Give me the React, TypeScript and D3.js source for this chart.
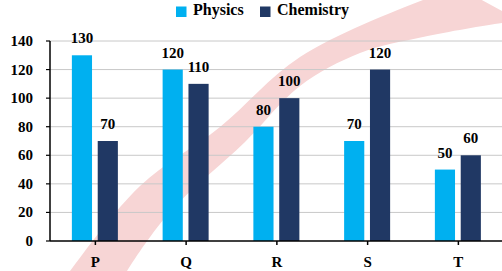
import * as d3 from "d3";

const categories = ["P", "Q", "R", "S", "T"];
const seriesNames = ["Physics", "Chemistry"];
const physics = [130, 120, 80, 70, 50];
const chemistry = [70, 110, 100, 120, 60];
const yTicks = [0, 20, 40, 60, 80, 100, 120, 140];

const colors = ["#00B0F0", "#203864"];
const font = "Liberation Serif, Times New Roman, serif";

// pale pink swoosh in the background (two edges of the band)
const swooshUpper: [number, number][] = [
  [58, 288], [70, 271], [140, 186], [220, 127], [300, 57], [423, 0], [460, -12],
];
const swooshLower: [number, number][] = [
  [118, 288], [127, 271], [170, 212], [245, 142], [300, 86], [360, 53], [423, 37], [502, 23], [520, 21],
];

export default function App() {
  const width = 502;
  const height = 271;
  const values = [physics, chemistry];

  const x = d3.scaleBand().domain(categories).range([50, 503.75]);
  const y = d3.scaleLinear().domain([0, 140]).range([241, 41]);
  const inner = d3.scaleBand().domain(seriesNames).range([0, 46]).paddingInner(0.22);

  const edge = d3.line().curve(d3.curveCatmullRom);
  const up = edge(swooshUpper) || "";
  const low = edge(swooshLower.slice().reverse()) || "";
  const swoosh = up + "L" + low.slice(1) + "Z";

  const textStyle = { fontFamily: font, fontWeight: 700 };

  return (
    <svg
      width={width}
      height={height}
      style={{ position: "absolute", left: 0, top: 0, ...textStyle }}
    >
      <rect width={width} height={height} fill="#fff" />
      <path d={swoosh} fill="#F7D5D5" stroke="none" />

      {/* legend */}
      {seriesNames.map((s, i) => {
        const lx = [176, 260][i];
        return (
          <g key={s}>
            <rect x={lx} y={6.5} width={10.5} height={10.5} fill={colors[i]} />
            <text x={lx + 17} y={15} fontSize={16} fill="#000" style={textStyle}>
              {s}
            </text>
          </g>
        );
      })}

      {/* gridlines and y axis */}
      {yTicks.map((t) => (
        <g key={t}>
          {t > 0 && (
            <line x1={50} x2={502} y1={y(t)} y2={y(t)} stroke="#C8C8C8" strokeWidth={1} />
          )}
          <line x1={46} x2={50} y1={y(t)} y2={y(t)} stroke="#000" strokeWidth={1.2} />
          <text x={33} y={y(t) + 5} textAnchor="end" fontSize={15} fill="#000" style={textStyle}>
            {t}
          </text>
        </g>
      ))}
      <line x1={50} x2={50} y1={y(140)} y2={y(0)} stroke="#000" strokeWidth={1.5} />

      {/* bars */}
      {categories.map((c, ci) => {
        const cx = (x(c) as number) + x.bandwidth() / 2;
        return (
          <g key={c}>
            {seriesNames.map((s, si) => {
              const v = values[si][ci];
              const bx = cx - 23.5 + (inner(s) as number);
              return (
                <g key={s}>
                  <rect
                    x={bx}
                    y={y(v)}
                    width={inner.bandwidth()}
                    height={y(0) - y(v)}
                    fill={colors[si]}
                  />
                  <text
                    x={bx + inner.bandwidth() / 2}
                    y={y(v) - 12}
                    textAnchor="middle"
                    fontSize={15}
                    fill="#000"
                    style={textStyle}
                  >
                    {v}
                  </text>
                </g>
              );
            })}
            <line x1={cx} x2={cx} y1={y(0)} y2={y(0) + 4} stroke="#000" strokeWidth={1.5} />
            <text x={cx} y={267} textAnchor="middle" fontSize={15} fill="#000" style={textStyle}>
              {c}
            </text>
          </g>
        );
      })}
      <line x1={50} x2={502} y1={y(0)} y2={y(0)} stroke="#000" strokeWidth={1.5} />
    </svg>
  );
}
